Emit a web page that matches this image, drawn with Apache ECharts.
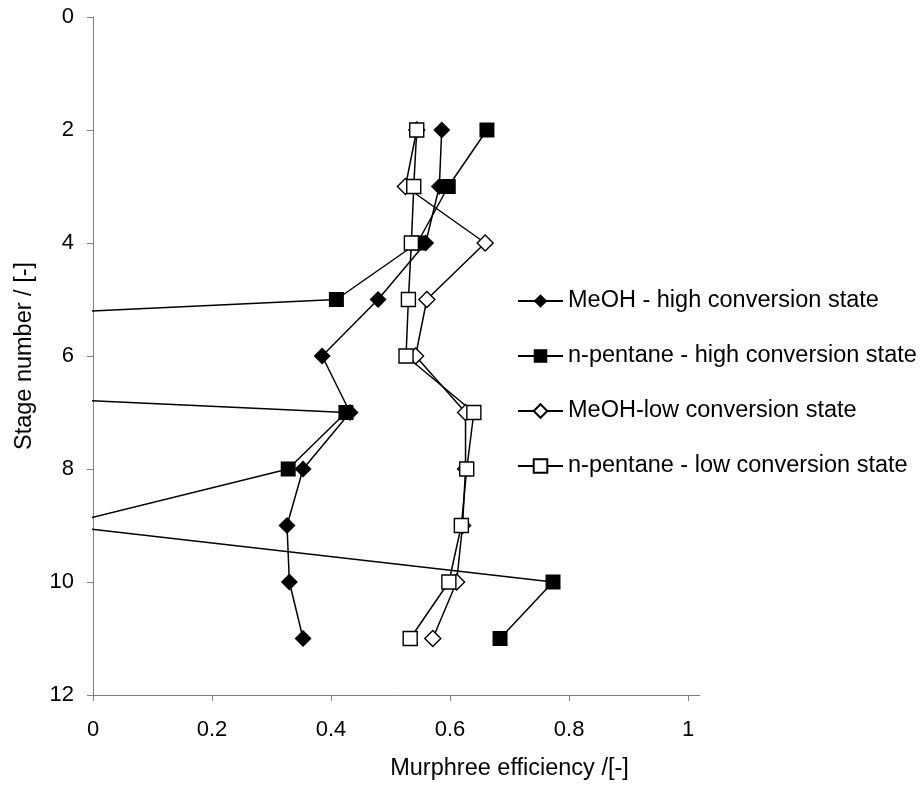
<!DOCTYPE html>
<html>
<head>
<meta charset="utf-8">
<title>Murphree efficiency per stage</title>
<script src="https://cdn.jsdelivr.net/npm/echarts@6/dist/echarts.min.js"></script>
<style>
  html, body { margin: 0; padding: 0; background: #fff; }
  #main { width: 921px; height: 787px; }
</style>
</head>
<body>
<div id="main"></div>
<script>
// stage numbers (y axis, inverted)
var stages = [2, 3, 4, 5, 6, 7, 8, 9, 10, 11];

// Murphree efficiency per stage
var meohHigh = [0.586, 0.582, 0.559, 0.479, 0.385, 0.432, 0.353, 0.326, 0.330, 0.353];
var pentaneHigh = [0.662, 0.597, 0.545, 0.409, -1.62, 0.425, 0.328, -0.056, 0.773, 0.684];
var meohLow = [0.544, 0.525, 0.659, 0.561, 0.542, 0.626, 0.626, 0.621, 0.611, 0.571];
var pentaneLow = [0.544, 0.539, 0.535, 0.530, 0.526, 0.640, 0.628, 0.619, 0.598, 0.533];

var seriesNames = [
    'MeOH - high conversion state',
    'n-pentane - high conversion state',
    'MeOH-low conversion state',
    'n-pentane - low conversion state'
];

var xTicks = [0, 0.2, 0.4, 0.6, 0.8, 1];

var font = 'Liberation Sans, Arial, sans-serif';

function pairs(values) {
    var res = [];
    for (var i = 0; i < values.length; i++) {
        res.push([values[i], stages[i]]);
    }
    return res;
}

function makeSeries(name, values, symbol, filled, size) {
    return {
        name: name,
        type: 'line',
        data: pairs(values),
        symbol: symbol,
        symbolSize: size,
        showAllSymbol: true,
        clip: true,
        animation: false,
        lineStyle: {color: '#000', width: 1.5},
        itemStyle: filled
            ? {color: '#000', borderColor: '#000', borderWidth: 0}
            : {color: '#fff', borderColor: '#000', borderWidth: 1.4},
        emphasis: {disabled: true}
    };
}

var myChart = echarts.init(document.getElementById('main'), null, {renderer: 'canvas'});

var option = {
    backgroundColor: '#fff',
    textStyle: {fontFamily: font, color: '#000'},
    grid: {left: 93, right: 221, top: 17, bottom: 92, containLabel: false},
    legend: {
        orient: 'vertical',
        left: 512,
        top: 284,
        itemWidth: 45,
        itemHeight: 17,
        itemGap: 31,
        textStyle: {fontFamily: font, fontSize: 23.5, color: '#000'},
        data: seriesNames
    },
    xAxis: {
        type: 'value',
        min: 0,
        max: 1.02,
        name: 'Murphree efficiency /[-]',
        nameLocation: 'middle',
        nameGap: 62,
        nameTextStyle: {fontFamily: font, fontSize: 23.5, color: '#000', padding: [0, 0, 0, 226]},
        splitLine: {show: false},
        axisLine: {onZero: false, lineStyle: {color: '#808080', width: 1}},
        axisTick: {show: true, inside: false, length: 6, customValues: xTicks, lineStyle: {color: '#808080'}},
        axisLabel: {margin: 24, fontSize: 22, color: '#000', fontFamily: font, customValues: xTicks,
            formatter: function (v) { return String(Math.round(v * 10) / 10); }}
    },
    yAxis: {
        type: 'value',
        inverse: true,
        min: 0,
        max: 12,
        interval: 2,
        name: 'Stage number / [-]',
        nameLocation: 'middle',
        nameGap: 56,
        nameTextStyle: {fontFamily: font, fontSize: 23.5, color: '#000'},
        splitLine: {show: false},
        axisLine: {show: true, onZero: false, lineStyle: {color: '#808080', width: 1}},
        axisTick: {show: true, inside: false, length: 6, lineStyle: {color: '#808080'}},
        axisLabel: {margin: 19, fontSize: 22, color: '#000', fontFamily: font}
    },
    series: [
        makeSeries(seriesNames[0], meohHigh, 'diamond', true, 17),
        makeSeries(seriesNames[1], pentaneHigh, 'rect', true, 15),
        makeSeries(seriesNames[2], meohLow, 'diamond', false, 16),
        makeSeries(seriesNames[3], pentaneLow, 'rect', false, 14)
    ]
};

myChart.setOption(option);
</script>
</body>
</html>
